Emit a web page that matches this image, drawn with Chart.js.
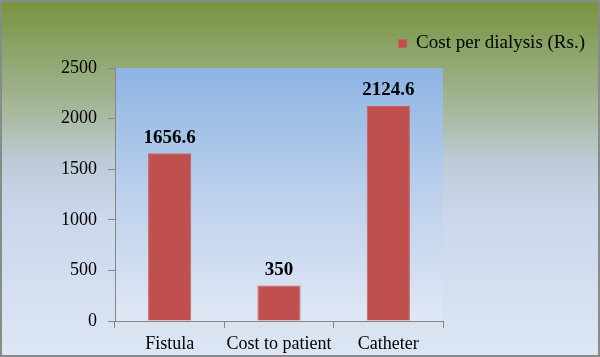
<!DOCTYPE html>
<html>
<head>
<meta charset="utf-8">
<script src="https://cdn.jsdelivr.net/npm/chart.js@4/dist/chart.umd.min.js"></script>
<style>
html,body{margin:0;padding:0;background:#fff;}
#wrap{width:600px;height:357px;position:relative;}
</style>
</head>
<body>
<div id="wrap"><canvas id="c" width="600" height="357"></canvas></div>
<script>
const categories = ["Fistula", "Cost to patient", "Catheter"];
const seriesName = "Cost per dialysis (Rs.)";
const costValues = [1656.6, 350, 2124.6];
const yTicks = [0, 500, 1000, 1500, 2000, 2500];

const FONT = "'Liberation Serif', 'Times New Roman', serif";

const bgPlugin = {
  id: 'bg',
  beforeDraw(chart) {
    const ctx = chart.ctx, W = chart.width, H = chart.height;
    const g = ctx.createLinearGradient(0, 0, 0, H);
    g.addColorStop(0, '#76933c');
    g.addColorStop(0.14, '#8ba468');
    g.addColorStop(0.3, '#a5b798');
    g.addColorStop(0.45, '#bccbd6');
    g.addColorStop(0.6, '#cad7ec');
    g.addColorStop(1, '#dde6f3');
    ctx.save();
    ctx.fillStyle = g;
    ctx.fillRect(0, 0, W, H);
    const a = chart.chartArea;
    const g2 = ctx.createLinearGradient(0, a.top, 0, a.bottom);
    g2.addColorStop(0, '#8db4e3');
    g2.addColorStop(0.5, '#bcd0ec');
    g2.addColorStop(1, '#e0e8f4');
    ctx.fillStyle = g2;
    ctx.fillRect(a.left, a.top, a.right - a.left, a.bottom - a.top);
    ctx.restore();
  },
  afterDraw(chart) {
    const ctx = chart.ctx;
    ctx.save();
    ctx.strokeStyle = '#8a8a8a';
    ctx.lineWidth = 2;
    ctx.strokeRect(1, 1, chart.width - 2, chart.height - 2);
    ctx.restore();
  }
};

const labelPlugin = {
  id: 'vals',
  afterDatasetsDraw(chart) {
    const ctx = chart.ctx;
    const meta = chart.getDatasetMeta(0);
    ctx.save();
    ctx.font = "bold 19px " + FONT;
    ctx.fillStyle = '#000';
    ctx.textAlign = 'center';
    ctx.textBaseline = 'bottom';
    meta.data.forEach((bar, i) => {
      ctx.fillText(String(costValues[i]), bar.x, bar.y - 6);
    });
    ctx.restore();
  }
};

new Chart(document.getElementById('c'), {
  type: 'bar',
  data: {
    labels: categories,
    datasets: [{
      label: seriesName,
      data: costValues,
      backgroundColor: '#c0504d',
      borderColor: '#c9605d',
      borderWidth: 1,
      barPercentage: 0.395,
      categoryPercentage: 1.0,
      yAxisID: 'y'
    }]
  },
  plugins: [bgPlugin, labelPlugin],
  options: {
    responsive: false,
    animation: false,
    events: [],
    layout: { padding: { top: 19, left: 0, right: 0, bottom: 0 } },
    plugins: {
      legend: {
        position: 'top',
        align: 'end',
        labels: {
          boxWidth: 8,
          boxHeight: 8,
          padding: 15,
          color: '#000',
          font: { family: FONT, size: 19 }
        }
      },
      tooltip: { enabled: false }
    },
    scales: {
      x: {
        grid: { drawOnChartArea: false, drawTicks: true, tickLength: 7, color: '#868686', offset: true },
        border: { display: true, color: '#868686', width: 1 },
        ticks: { color: '#000', font: { family: FONT, size: 18 }, padding: 5, maxRotation: 0 },
        afterFit(s) { s.height = 36; }
      },
      y: {
        min: 0, max: 2500,
        afterBuildTicks(s) { s.ticks = yTicks.map(v => ({ value: v })); },
        grid: { drawOnChartArea: false, drawTicks: true, tickLength: 7, color: '#868686' },
        border: { display: true, color: '#868686', width: 1 },
        ticks: { color: '#000', font: { family: FONT, size: 18 }, padding: 11, callback: v => String(v) },
        afterFit(s) { s.width = 115; }
      },
      r: {
        type: 'linear',
        position: 'right',
        display: true,
        grid: { display: false, drawTicks: false },
        border: { display: false },
        ticks: { display: false },
        afterFit(s) { s.width = 157; }
      },
      t: {
        type: 'linear',
        position: 'top',
        display: true,
        grid: { display: false, drawTicks: false },
        border: { display: false },
        ticks: { display: false },
        afterFit(s) { s.height = 5; }
      }
    }
  }
});
</script>
</body>
</html>
